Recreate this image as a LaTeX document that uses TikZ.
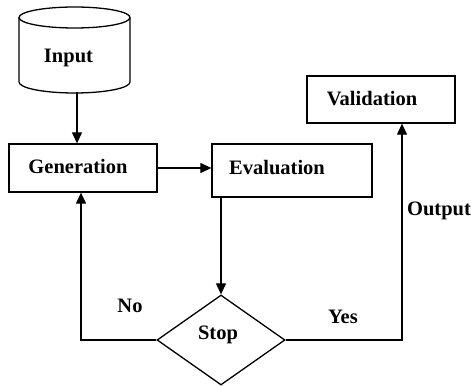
\documentclass[tikz,border=0pt]{standalone}
\usepackage{fontspec}
\setmainfont{Liberation Serif}
\usetikzlibrary{shapes.geometric,arrows.meta}
\tikzset{
  box/.style={draw, line width=1.3pt, inner sep=0pt},
  lbl/.style={font=\fontsize{20.5}{24}\selectfont\bfseries, inner sep=0pt},
  conn/.style={line width=1.2pt, -{Triangle[length=11pt,width=10pt]}},
  plain/.style={line width=1.2pt}
}
\begin{document}
\begin{tikzpicture}[x=1pt,y=-1pt]
\useasboundingbox (0,0) rectangle (471,387);
% cylinder (Input)
\draw[line width=1.3pt] (74.5,17.5) ellipse [x radius=55.5, y radius=10.5];
\draw[line width=1.3pt] (19,17.5) -- (19,82) arc[start angle=180, end angle=0, x radius=55.5, y radius=11] -- (130,17.5);
\coordinate (inbot) at (77,92.5);
\node[lbl] (inp) at (68.5,58) {Input};
% boxes
\node[box, minimum width=148, minimum height=48] (gen) at (83,168) {};
\node[lbl] (gent) at (78,166) {Generation};
\node[box, minimum width=160, minimum height=53] (eval) at (292,170.5) {};
\node[lbl] (evalt) at (277,168) {Evaluation};
\node[box, minimum width=148, minimum height=47] (val) at (381,99.5) {};
\node[lbl] (valt) at (372,99) {Validation};
\node[draw, diamond, line width=1.3pt, minimum width=128, minimum height=90, inner sep=0pt] (stop) at (221,340) {};
\node[lbl] (stopt) at (218,335) {Stop};
% connectors
\draw[conn] (inbot) -- (inbot |- gen.north);
\draw[conn] (gen.east) -- (gen.east -| eval.west);
\draw[conn] (stop.north |- eval.south) -- (stop.north);
\coordinate (nocorner) at (81,340);
\draw[conn] (stop.west) -- (nocorner) -- (nocorner |- gen.south);
\coordinate (yescorner) at (402,340);
\draw[conn] (stop.east) -- (yescorner) -- (yescorner |- val.south);
% labels
\node[lbl] (no) at (130,306) {No};
\node[lbl] (yes) at (343,317) {Yes};
\node[lbl] (out) at (439,211) {Output};
\end{tikzpicture}
\end{document}
